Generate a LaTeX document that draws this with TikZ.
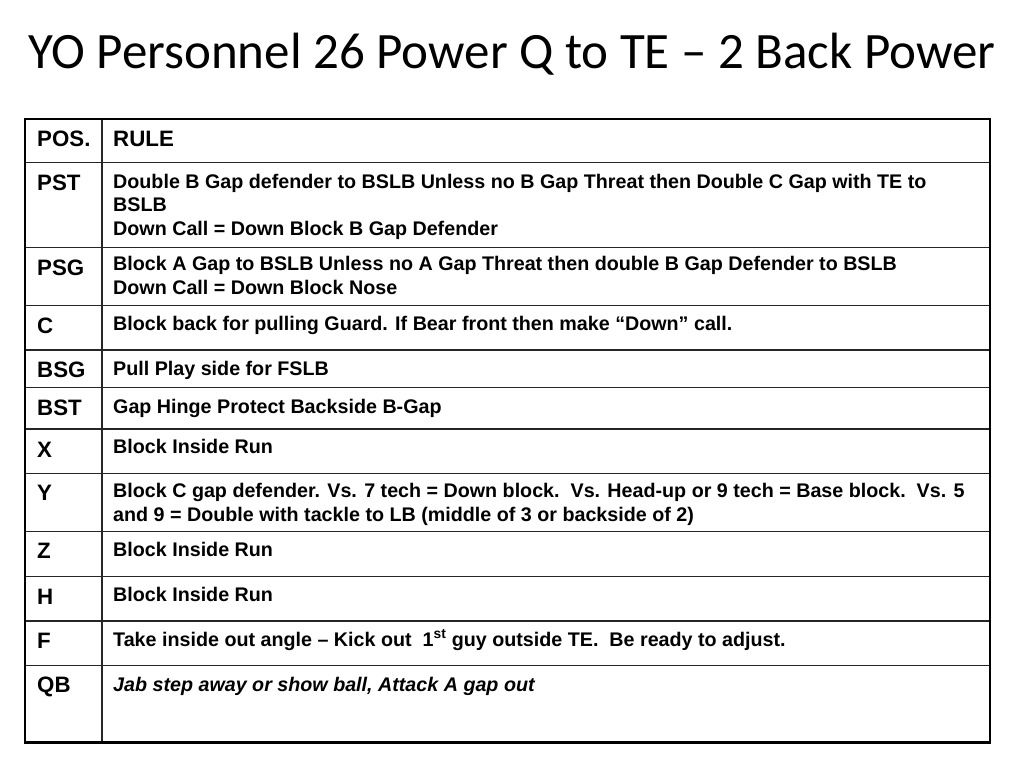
\documentclass[tikz,border=0pt]{standalone}
\usepackage{fontspec}
\setmainfont{Liberation Sans}
\newfontfamily\titlefont{Carlito}
\begin{document}
\begin{tikzpicture}[x=1pt,y=-1pt,
  posl/.style={anchor=base west, inner sep=0pt, font=\fontsize{22.3}{26}\selectfont\bfseries},
  rulet/.style={anchor=base west, inner sep=0pt, font=\fontsize{19.7}{24}\selectfont\bfseries},
  gridline/.style={line width=1.4pt, draw=black!85},
  frameline/.style={line width=2.6pt, draw=black}]
\useasboundingbox (0,0) rectangle (1024,768);
\node[anchor=base west, inner sep=0pt, font=\titlefont\fontsize{51}{60}\selectfont] (title) at (28,68) {YO Personnel 26 Power Q to TE – 2 Back Power};
% grid
\foreach \yy in {162.7,247.3,305.7,350,387.7,429,473.5,531.7,576.7,621,665.7}
  \draw[gridline] (25,\yy) -- (990,\yy);
\draw[gridline] (102,119) -- (102,742.7);
\draw[frameline] (25,119) rectangle (990,742.7);
% header
\node[posl] (hpos) at (37,146.7) {POS.};
\node[posl] (hrule) at (113,146.7) {RULE};
% rows
\node[posl] (pst) at (37,190) {PST};
\node[rulet] (pstr1) at (113,188) {Double B Gap defender to BSLB Unless no B Gap Threat then Double C Gap with TE to};
\node[rulet] (pstr2) at (113,211.5) {BSLB};
\node[rulet] (pstr3) at (113,235.5) {Down Call = Down Block B Gap Defender};
\node[posl] (psg) at (37,275) {PSG};
\node[rulet] (psgr1) at (113,270.5) {Block A Gap to BSLB Unless no A Gap Threat then double B Gap Defender to BSLB};
\node[rulet] (psgr2) at (113,294.5) {Down Call = Down Block Nose};
\node[posl] (c) at (37,333) {C};
\node[rulet] (cr) at (113,330.5) {Block back for pulling Guard. If Bear front then make “Down” call.};
\node[posl] (bsg) at (37,377.5) {BSG};
\node[rulet] (bsgr) at (113,375) {Pull Play side for FSLB};
\node[posl] (bst) at (37,415.5) {BST};
\node[rulet] (bstr) at (113,413) {Gap Hinge Protect Backside B-Gap};
\node[posl] (x) at (37,457.5) {X};
\node[rulet] (xr) at (113,453.5) {Block Inside Run};
\node[posl] (y) at (37,500.5) {Y};
\node[rulet] (yr1) at (113,497.5) {Block C gap defender. Vs. 7 tech = Down block.\ \ Vs. Head-up or 9 tech = Base block.\ \ Vs. 5};
\node[rulet] (yr2) at (113,521.5) {and 9 = Double with tackle to LB (middle of 3 or backside of 2)};
\node[posl] (z) at (37,558.5) {Z};
\node[rulet] (zr) at (113,556) {Block Inside Run};
\node[posl] (h) at (37,604.5) {H};
\node[rulet] (hr) at (113,601.5) {Block Inside Run};
\node[posl] (f) at (37,648) {F};
\node[rulet] (fr) at (113,646) {Take inside out angle – Kick out\ \ 1\textsuperscript{st} guy outside TE.\ \ Be ready to adjust.};
\node[posl] (qb) at (37,692.5) {QB};
\node[rulet, font=\fontsize{19.7}{24}\selectfont\bfseries\itshape] (qbr) at (113,691) {Jab step away or show ball, Attack A gap out};
\end{tikzpicture}
\end{document}
